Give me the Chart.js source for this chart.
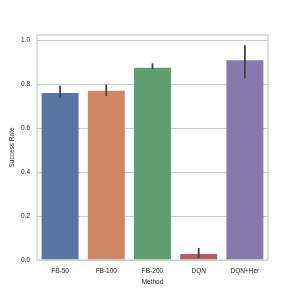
<!DOCTYPE html>
<html>
<head>
<meta charset="utf-8">
<script src="https://cdn.jsdelivr.net/npm/chart.js@4"></script>
<style>
  html, body { margin: 0; padding: 0; background: #ffffff; }
  #wrap { width: 298px; height: 298px; }
</style>
</head>
<body>
<div id="wrap"><canvas id="grafico" width="298" height="298"></canvas></div>
<script>
// dados
const metodos = ["FB-50", "FB-100", "FB-200", "DQN", "DQN+Her"];
const taxaSucesso = [0.759, 0.770, 0.874, 0.027, 0.908];
const erroMin = [0.738, 0.745, 0.867, 0.008, 0.826];
const erroMax = [0.792, 0.797, 0.894, 0.055, 0.976];
const cores = ["#5975a4", "#cc8963", "#5f9e6e", "#b55d60", "#857aab"];
const ticksY = [0, 0.2, 0.4, 0.6, 0.8, 1.0];

const fonte = { family: "'Liberation Sans', Arial, sans-serif", size: 6.5 };
const corTexto = "#262626";

// barras de erro + moldura
const pluginErro = {
  id: "barrasErro",
  afterDatasetsDraw(chart) {
    const ctx = chart.ctx;
    const y = chart.scales.y;
    const meta = chart.getDatasetMeta(0);
    ctx.save();
    ctx.strokeStyle = "#424242";
    ctx.lineWidth = 1.8;
    meta.data.forEach((bar, i) => {
      ctx.beginPath();
      ctx.moveTo(bar.x, y.getPixelForValue(erroMin[i]));
      ctx.lineTo(bar.x, y.getPixelForValue(erroMax[i]));
      ctx.stroke();
    });
    const a = chart.chartArea;
    ctx.strokeStyle = "#cccccc";
    ctx.lineWidth = 1.2;
    ctx.strokeRect(a.left, a.top, a.right - a.left, a.bottom - a.top);
    ctx.restore();
  }
};

new Chart(document.getElementById("grafico"), {
  type: "bar",
  data: {
    labels: metodos,
    datasets: [{
      data: taxaSucesso,
      backgroundColor: cores,
      categoryPercentage: 1.0,
      barPercentage: 0.8
    }]
  },
  options: {
    responsive: false,
    animation: false,
    devicePixelRatio: 1,
    layout: { padding: { left: 8.5, right: 30, top: 35, bottom: 12 } },
    plugins: { legend: { display: false }, tooltip: { enabled: false } },
    scales: {
      x: {
        grid: { display: false, drawTicks: false },
        border: { display: false },
        ticks: { font: fonte, color: corTexto, padding: 7 },
        title: { display: true, text: "Method", font: fonte, color: corTexto, padding: { top: 0, bottom: 0 } },
        afterFit(s) { s.height = 26; }
      },
      y: {
        min: 0,
        max: 1.023,
        afterBuildTicks(s) { s.ticks = ticksY.map(v => ({ value: v })); },
        grid: { color: "#cccccc", lineWidth: 1, drawTicks: false },
        border: { display: false },
        ticks: { font: fonte, color: corTexto, padding: 7, callback: v => v.toFixed(1) },
        title: { display: true, text: "Success Rate", font: fonte, color: corTexto, padding: { top: 0, bottom: 0 } },
        afterFit(s) { s.width = 28.5; }
      }
    }
  },
  plugins: [pluginErro]
});
</script>
</body>
</html>
